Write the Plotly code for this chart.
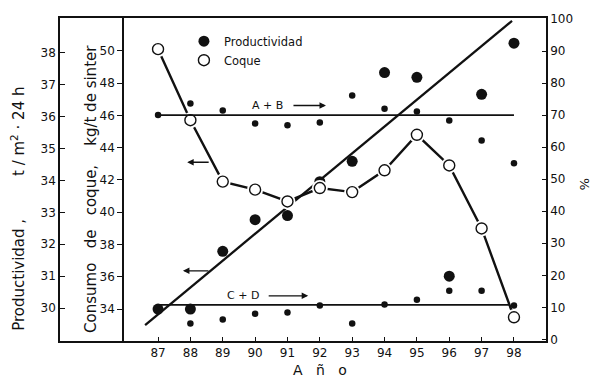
import plotly.graph_objects as go

# ---------------- data ----------------
years = [87, 88, 89, 90, 91, 92, 93, 94, 95, 96, 97, 98]
productividad = [29.97, 29.97, 31.78, 32.77, 32.9, 33.96, 34.6, 37.38, 37.23, 31.0, 36.7, 38.3]
coque = [50.1, 45.7, 41.9, 41.4, 40.67, 41.5, 41.25, 42.6, 44.8, 42.9, 39.0, 33.5]

pct_ab = [70.0, 73.6, 71.4, 67.4, 66.8, 67.7, 76.1, 72.0, 71.1, 68.3, 62.1, 55.0]
years_cd = [88, 89, 90, 91, 92, 93, 94, 95, 96, 97, 98]
pct_cd = [5.0, 6.2, 8.0, 8.4, 10.6, 5.0, 10.9, 12.4, 15.2, 15.2, 10.6]

trend_years = [86.6, 97.94]
trend_prod = [29.47, 39.0]

ab_years = [87.05, 98.0]
ab_level = [70.0, 70.0]
cd_years = [87.05, 97.85]
cd_level = [10.8, 10.8]

prod_ticks = [30, 31, 32, 33, 34, 35, 36, 37, 38]
coque_ticks = [34, 36, 38, 40, 42, 44, 46, 48, 50]
pct_ticks = [0, 10, 20, 30, 40, 50, 60, 70, 80, 90, 100]

INK = "#111111"
FONT = "DejaVu Sans"
NB = "\u00a0"

fig = go.Figure()

# regression line for productivity
fig.add_trace(go.Scatter(x=trend_years, y=trend_prod, mode="lines",
                         line=dict(color=INK, width=2.3), showlegend=False,
                         hoverinfo="skip", yaxis="y"))
# A+B and C+D mean lines (% axis)
fig.add_trace(go.Scatter(x=ab_years, y=ab_level, mode="lines",
                         line=dict(color=INK, width=1.8), showlegend=False,
                         hoverinfo="skip", yaxis="y3"))
fig.add_trace(go.Scatter(x=cd_years, y=cd_level, mode="lines",
                         line=dict(color=INK, width=1.8), showlegend=False,
                         hoverinfo="skip", yaxis="y3"))
# small dots (% axis)
fig.add_trace(go.Scatter(x=years, y=pct_ab, mode="markers",
                         marker=dict(color=INK, size=6.5), showlegend=False, yaxis="y3"))
fig.add_trace(go.Scatter(x=years_cd, y=pct_cd, mode="markers",
                         marker=dict(color=INK, size=6.5), showlegend=False, yaxis="y3"))
# coque line
fig.add_trace(go.Scatter(x=years, y=coque, mode="lines",
                         line=dict(color=INK, width=2.4), showlegend=False,
                         hoverinfo="skip", yaxis="y2"))
# white halo for the gaps around the open circles
fig.add_trace(go.Scatter(x=years, y=coque, mode="markers",
                         marker=dict(color="white", size=16, line=dict(width=0)),
                         showlegend=False, hoverinfo="skip", yaxis="y2"))
# open circles: coque
fig.add_trace(go.Scatter(x=years, y=coque, mode="markers", name="Coque",
                         marker=dict(color="white", size=11, line=dict(color=INK, width=1.4)),
                         yaxis="y2", legendrank=2))
# filled circles: productividad
fig.add_trace(go.Scatter(x=years, y=productividad, mode="markers", name="Productividad",
                         marker=dict(color=INK, size=11), yaxis="y", legendrank=1))

axis_common = dict(showgrid=False, zeroline=False, showline=True, linecolor=INK,
                   linewidth=1.5, tickcolor=INK, tickwidth=1.3,
                   tickfont=dict(family=FONT, size=12, color=INK))

fig.update_layout(
    width=591, height=378,
    margin=dict(l=60, r=45, t=16, b=37),
    paper_bgcolor="white", plot_bgcolor="white",
    font=dict(family=FONT, color=INK),
    xaxis=dict(range=[83.97, 98.99], tickvals=years, ticktext=[str(v) for v in years],
               ticks="inside", ticklen=4, mirror=True, **axis_common),
    yaxis=dict(range=[28.97, 39.09], tickvals=prod_ticks, ticks="inside", ticklen=5,
               side="left", **axis_common),
    yaxis2=dict(range=[32.03, 52.03], tickvals=coque_ticks, ticks="outside", ticklen=5,
                overlaying="y", anchor="free", position=0.1296, side="left", **axis_common),
    yaxis3=dict(range=[-0.5, 100.3], tickvals=pct_ticks, ticks="inside", ticklen=4,
                overlaying="y", anchor="x", side="right", **axis_common),
    showlegend=True,
    legend=dict(x=0.255, y=0.973, xanchor="left", yanchor="top",
                bgcolor="rgba(0,0,0,0)", font=dict(family=FONT, size=11.5, color=INK),
                tracegroupgap=0, itemclick=False),
)

ann = []
# left-axis titles
ann.append(dict(text="Productividad ," + NB * 9 + "t / m<sup>2</sup> · 24 h",
                xref="paper", yref="paper", x=(18 - 60) / 486, y=(341 - 208) / 325,
                xanchor="center", yanchor="middle",
                textangle=-90, showarrow=False, font=dict(family=FONT, size=15, color=INK)))
ann.append(dict(text="Consumo" + NB * 3 + "de" + NB * 3 + "coque," + NB * 4 + "kg/t de sinter",
                xref="paper", yref="paper", x=(91 - 60) / 486, y=(341 - 188) / 325,
                xanchor="center", yanchor="middle",
                textangle=-90, showarrow=False, font=dict(family=FONT, size=15, color=INK)))
# x title
ann.append(dict(text="A" + NB * 3 + "ñ" + NB * 3 + "o", xref="paper", yref="paper",
                x=(320 - 60) / 486, y=(341 - 370) / 325, xanchor="center", yanchor="middle",
                showarrow=False, font=dict(family=FONT, size=14, color=INK)))
# right title
ann.append(dict(text="%", xref="paper", yref="paper", x=(584 - 60) / 486,
                y=(341 - 183) / 325, xanchor="center", yanchor="middle",
                textangle=90, showarrow=False,
                font=dict(family=FONT, size=13, color=INK)))
# group labels
ann.append(dict(text="A + B", xref="x", yref="y3", x=90.37, y=73.0, showarrow=False,
                font=dict(family=FONT, size=11, color=INK)))
ann.append(dict(text="", xref="x", yref="y3", x=92.19, y=73.0, ax=-34, ay=0,
                showarrow=True, arrowhead=2, arrowsize=1, arrowwidth=1.3, arrowcolor=INK))
ann.append(dict(text="C + D", xref="x", yref="y3", x=89.63, y=13.6, showarrow=False,
                font=dict(family=FONT, size=11, color=INK)))
ann.append(dict(text="", xref="x", yref="y3", x=91.64, y=13.6, ax=-41, ay=0,
                showarrow=True, arrowhead=2, arrowsize=1, arrowwidth=1.3, arrowcolor=INK))
# arrows pointing to left axes
ann.append(dict(text="", xref="x", yref="y", x=87.9, y=34.57, ax=23, ay=0,
                showarrow=True, arrowhead=2, arrowsize=1, arrowwidth=1.3, arrowcolor=INK))
ann.append(dict(text="", xref="x", yref="y", x=87.77, y=31.17, ax=27, ay=0,
                showarrow=True, arrowhead=2, arrowsize=1, arrowwidth=1.3, arrowcolor=INK))
fig.update_layout(annotations=ann)

fig.write_html("out.html", config={"displayModeBar": False},
               post_script="document.body.style.margin='0px';")
